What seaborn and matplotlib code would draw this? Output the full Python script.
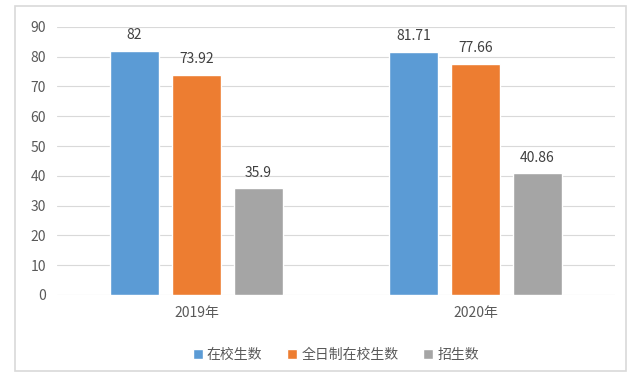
import matplotlib
matplotlib.use("Agg")
import matplotlib.pyplot as plt
from matplotlib.patches import Rectangle
import pandas as pd
import seaborn as sns

years = ["2019年", "2020年"]
series = ["在校生数", "全日制在校生数", "招生数"]
values_2019 = [82, 73.92, 35.9]
values_2020 = [81.71, 77.66, 40.86]
labels_2019 = ["82", "73.92", "35.9"]
labels_2020 = ["81.71", "77.66", "40.86"]
colors = ["#5B9BD5", "#ED7D31", "#A5A5A5"]

rows = []
for year, vals in zip(years, [values_2019, values_2020]):
    for name, v in zip(series, vals):
        rows.append({"year": year, "series": name, "value": v})
data = pd.DataFrame(rows)

sns.set_theme(style="white")
plt.rcParams["font.family"] = ["Noto Sans CJK SC", "DejaVu Sans"]

fig = plt.figure(figsize=(6.4, 3.84), dpi=100)
fig.patches.append(Rectangle((0.023, 0.035), 0.955, 0.95, transform=fig.transFigure,
                             fill=False, edgecolor="#d9d9d9", linewidth=1.2))
ax = fig.add_axes([0.089, 0.232, 0.872, 0.698])
sns.barplot(data=data, x="year", y="value", hue="series", palette=colors,
            saturation=1, width=0.667, gap=0.22, ax=ax, legend=True)

label_map = {series[i]: (labels_2019[i], labels_2020[i]) for i in range(3)}
for container, name in zip(ax.containers, series):
    ax.bar_label(container, labels=list(label_map[name]), padding=6,
                 fontsize=10, color="#404040")

ax.set_ylim(0, 90)
ax.set_yticks(range(0, 91, 10))
ax.set_xlim(-0.5, 1.5)
ax.yaxis.grid(True, color="#d9d9d9", linewidth=0.8)
ax.set_axisbelow(True)
for s in ax.spines.values():
    s.set_visible(False)
ax.set_xlabel("")
ax.set_ylabel("")
ax.tick_params(axis="both", length=0, labelsize=10, colors="#595959", pad=8)

handles, lbls = ax.get_legend_handles_labels()
ax.legend(handles, lbls, loc="upper center", bbox_to_anchor=(0.5, -0.15), ncol=3,
          frameon=False, fontsize=10, handlelength=0.7, handleheight=0.7,
          handletextpad=0.3, columnspacing=1.8, labelcolor="#595959")

fig.savefig("out.png", dpi=100)
